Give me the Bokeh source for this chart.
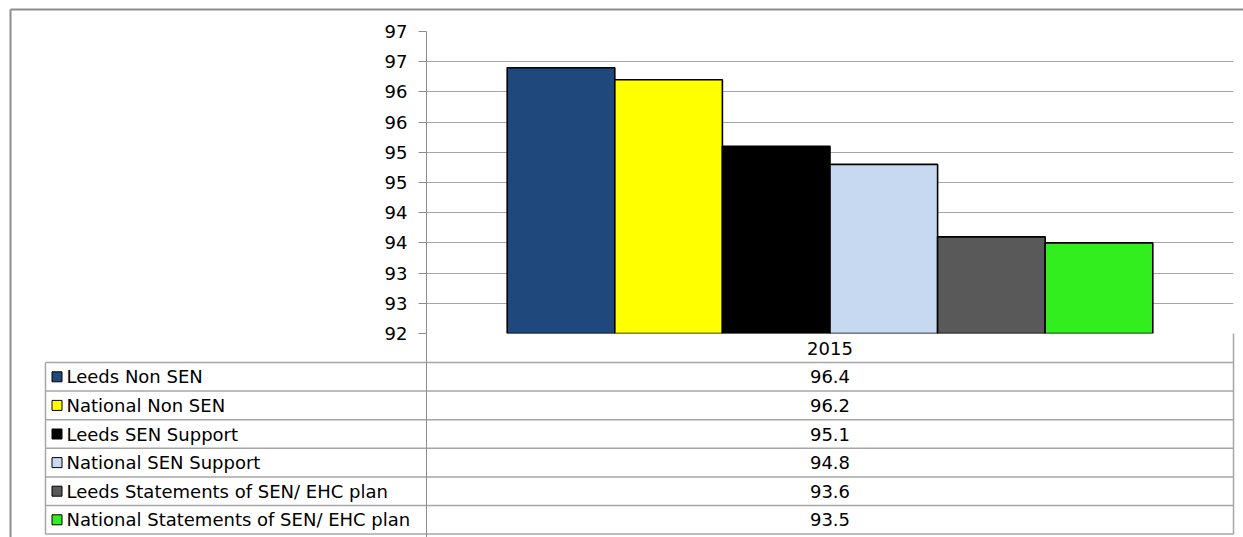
from bokeh.plotting import figure
from bokeh.models import Range1d, FixedTicker, ColumnDataSource
from bokeh.embed import file_html
from bokeh.resources import INLINE
from bokeh.core.properties import value

# ---------------- data ----------------
years = ["2015"]
series = [
    "Leeds Non SEN",
    "National Non SEN",
    "Leeds  SEN Support",
    "National SEN Support",
    "Leeds Statements of SEN/ EHC plan",
    "National Statements of SEN/ EHC plan",
]
values_2015 = [96.4, 96.2, 95.1, 94.8, 93.6, 93.5]
colors = ["#1F497D", "#FFFF00", "#000000", "#C6D9F1", "#595959", "#33EE1E"]
y_ticks = [92, 92.5, 93, 93.5, 94, 94.5, 95, 95.5, 96, 96.5, 97]
y_tick_labels = ["92", "93", "93", "94", "94", "95", "95", "96", "96", "97", "97"]

# ---------------- layout (canvas pixels) ----------------
W, H = 1243, 537
FL, FR, FT, FB = 426, 1233, 31, 333   # plot frame edges
FONT = "DejaVu Sans"
FS = "18px"
GRID = "#A6A6A6"
AXIS = "#8C8C8C"
BORDER = "#8C8C8C"

# one category (index 0) spanning the frame width
p = figure(width=W, height=H, x_range=Range1d(-0.5, len(years) - 0.5),
           y_range=Range1d(92, 97), output_backend="svg", toolbar_location=None,
           min_border_left=FL, min_border_right=W - FR, min_border_top=FT, min_border_bottom=H - FB,
           background_fill_color="white", border_fill_color="white")
# pixel-like ranges for the surrounding data table / frame decoration
p.extra_x_ranges = {"px": Range1d(FL, FR)}
p.extra_y_ranges = {"py": Range1d(FB, FT)}

n = len(series)
bw = 0.8 / n
for i, (s, v, c) in enumerate(zip(series, values_2015, colors)):
    src = ColumnDataSource(dict(x=[k - 0.4 + (i + 0.5) * bw for k in range(len(years))], top=[v]))
    p.vbar(x="x", top="top", bottom=92, width=bw, source=src,
           fill_color=c, line_color="black", line_width=1.6)

p.xaxis.visible = False
ya = p.yaxis[0]
ya.ticker = FixedTicker(ticks=y_ticks)
ya.major_label_overrides = {t: l for t, l in zip(y_ticks, y_tick_labels)}
ya.major_tick_out = 8
ya.major_tick_in = 0
ya.minor_tick_out = 0
ya.minor_tick_in = 0
ya.axis_line_color = AXIS
ya.major_tick_line_color = AXIS
ya.major_label_text_font = FONT
ya.major_label_text_font_size = FS
ya.major_label_text_color = "black"
ya.major_label_standoff = 11
p.xgrid.visible = False
p.ygrid.grid_line_color = GRID
p.outline_line_color = None

kw = dict(x_range_name="px", y_range_name="py", level="overlay")

# outer border (top and left)
p.segment(x0=[10, 10], x1=[W + 5, 10], y0=[9, 9], y1=[9, H + 5], line_color=BORDER, line_width=2, **kw)

# ---------------- data table ----------------
left_x, div_x, right_x = 45, FL, FR
header_bottom, row_h = 362, 28.6
row_lines = [header_bottom + k * row_h for k in range(n + 1)]
p.segment(x0=[left_x] * len(row_lines), x1=[right_x] * len(row_lines),
          y0=row_lines, y1=row_lines, line_color=GRID, line_width=1.5, **kw)
p.segment(x0=[left_x, right_x], x1=[left_x, right_x],
          y0=[header_bottom, FB], y1=[row_lines[-1], row_lines[-1]], line_color=GRID, line_width=1.5, **kw)
p.segment(x0=[div_x], x1=[div_x], y0=[FB], y1=[H + 5], line_color=AXIS, line_width=1, **kw)

val_x = (div_x + right_x) / 2
p.text(x=[val_x], y=[(FB + header_bottom) / 2], text=years, text_align="center", text_baseline="middle",
       text_font=value(FONT), text_font_size=FS, text_color="black", **kw)
row_c = [header_bottom + (k + 0.5) * row_h for k in range(n)]
p.rect(x=[56.5] * n, y=row_c, width=10, height=10, fill_color=colors, line_color="black",
       line_width=1, **kw)
p.text(x=[66] * n, y=row_c, text=series, text_align="left", text_baseline="middle",
       text_font=value(FONT), text_font_size=FS, text_color="black", **kw)
p.text(x=[val_x] * n, y=row_c, text=[f"{v:.1f}" for v in values_2015], text_align="center",
       text_baseline="middle", text_font=value(FONT), text_font_size=FS, text_color="black", **kw)

open("out.html", "w").write(file_html(p, INLINE))
